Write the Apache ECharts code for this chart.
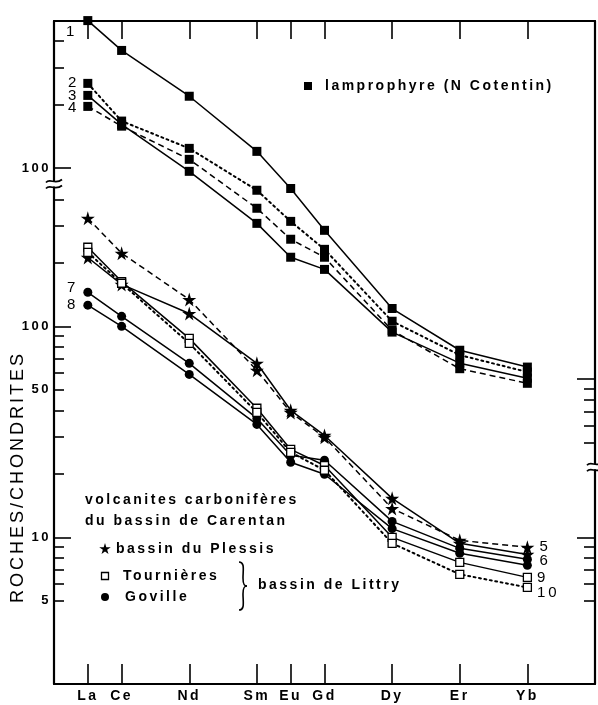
<!DOCTYPE html>
<html><head><meta charset="utf-8">
<script src="https://cdn.jsdelivr.net/npm/echarts@6/dist/echarts.min.js"></script>
<style>html,body{margin:0;padding:0;background:#fff}#c{width:598px;height:705px}</style>
</head><body><div id="c"></div>
<script>
// ---------- data ----------
const elements = ['La','Ce','Nd','Sm','Eu','Gd','Dy','Er','Yb'];
const atomicNumbers = [57,58,60,62,63,64,66,68,70];
// lamprophyre (N Cotentin) — upper scale
const lamp1 = [500,361,219,120,80,50.7,21.6,13.7,11.4];
const lamp2 = [252,167,124,78.5,55.9,41.2,18.8,13.0,10.8];
const lamp3 = [221,161,96.5,54.7,37.8,33.1,16.7,11.9,10.1];
const lamp4 = [196,158,110,64.5,46,37.8,17.0,11.2,9.55];
// bassin du Plessis (stars)
const plessis5 = [325,222,134,61.9,39.1,29.8,13.7,9.68,8.97];
const plessis6 = [212,158,115,66.8,40.0,30.4,15.3,9.37,8.3];
// Goville (dots)
const goville7 = [145,111.5,66.8,36.6,24.5,23.2,11.9,8.87,7.87];
const goville8 = [126,100,59.2,34.3,22.7,19.9,11.0,8.40,7.37];
// Tournières (open squares)
const tour9 = [237,163,87.7,40.9,26.1,21.9,10.0,7.61,6.46];
const tour10 = [224,160,83.1,39.1,25.3,20.8,9.37,6.68,5.79];

// ---------- tick labels ----------
const lowerLabels = [5,10,50,100];
const upperLabels = [100,500];
const lowerMajorTicks = [10,100];
const lowerMinorTicks = [5,6,7,8,9,20,30,40,50,60,70,80,90,200,300,400];
const upperMajorTicks = [100];
const upperMinorTicks = [200,300,400];
const rightUpperMajor = [10], rightUpperMinor = [5,6,7,8,9];
const rightLowerMajor = [10], rightLowerMinor = [5,6,7,8,9];

// ---------- scale setup ----------
const UPPER_SHIFT = 0.75;       // decades by which the lamprophyre scale is shifted
const Y_MAX = 3.447, Y_MIN = 0.305;
const toLower = v => Math.log10(v);
const toUpper = v => Math.log10(v) + UPPER_SHIFT;
const LEFT_BREAK = Math.log10(470);
const RIGHT_BREAK = Math.log10(21.5);

// letter spacing for the typewriter-like lettering
(function(){
  const P = CanvasRenderingContext2D.prototype, f = P.fillText;
  P.fillText = function(t,x,y,m){ try{ this.letterSpacing = /bold/.test(this.font) ? '2.5px' : '3px'; }catch(e){} return m===undefined ? f.call(this,t,x,y) : f.call(this,t,x,y,m); };
})();

const FONT = 'Liberation Sans, Arial, sans-serif';
const labelVals = lowerLabels.map(toLower).concat(upperLabels.map(toUpper));
const labelTxt = lowerLabels.concat(upperLabels).map(String);

const starPts = [[50,0],[61,35],[98,35],[68,57],[79,91],[50,70],[21,91],[32,57],[2,35],[39,35]];
const starPath = 'path://M' + starPts.map(p => p.join(',')).join(' L') + ' Z';

function mkSeries(name, vals, upper, symbol, size, lineType, white, lab) {
  const tf = upper ? toUpper : toLower;
  const data = vals.map((v,i) => {
    const d = { value: [atomicNumbers[i], tf(v)] };
    if (lab && lab.idx === i) {
      d.label = { show: true, formatter: lab.text, position: lab.pos, distance: lab.dist,
        offset: lab.off, color: '#000', fontSize: 15, fontFamily: FONT };
    }
    return d;
  });
  const dotted = Array.isArray(lineType) && lineType[0] === 2;
  return {
    name, type: 'line', data, symbol, symbolSize: size, clip: false,
    lineStyle: { color: '#000', width: dotted ? 2 : 1.5, type: lineType, cap: dotted ? 'round' : 'butt' },
    itemStyle: white ? { color: '#fff', borderColor: '#000', borderWidth: 1.3 } : { color: '#000', borderWidth: 0 },
    emphasis: { disabled: true }, z: 3
  };
}

const series = [
  mkSeries('1', lamp1, true, 'rect', 9, 'solid', false, {idx:0, text:'1', pos:'left', dist:6, off:[0,11]}),
  mkSeries('2', lamp2, true, 'rect', 9, [2,3.5], false, {idx:0, text:'2', pos:'left', dist:4, off:[0,-1]}),
  mkSeries('3', lamp3, true, 'rect', 9, 'solid', false, {idx:0, text:'3', pos:'left', dist:4, off:[0,0]}),
  mkSeries('4', lamp4, true, 'rect', 9, [6,4], false, {idx:0, text:'4', pos:'left', dist:4, off:[0,1]}),
  mkSeries('5', plessis5, false, starPath, 14, [6,4], false, {idx:8, text:'5', pos:'right', dist:5, off:[0,0]}),
  mkSeries('6', plessis6, false, starPath, 14, 'solid', false, {idx:8, text:'6', pos:'right', dist:5, off:[0,6]}),
  mkSeries('7', goville7, false, 'circle', 9, 'solid', false, {idx:0, text:'7', pos:'left', dist:5, off:[0,-4]}),
  mkSeries('8', goville8, false, 'circle', 9, 'solid', false, {idx:0, text:'8', pos:'left', dist:5, off:[0,0]}),
  mkSeries('9', tour9, false, 'rect', 8, 'solid', true, {idx:8, text:'9', pos:'right', dist:5, off:[0,0]}),
  mkSeries('10', tour10, false, 'rect', 8, [2,3.5], true, {idx:8, text:'10', pos:'right', dist:5, off:[0,5]})
];

function yAx(position, ticks, len, showLine, showLabels) {
  return {
    type: 'value', position, min: Y_MIN, max: Y_MAX, offset: 0,
    axisLine: { show: showLine, lineStyle: { color: '#000', width: 2.2 } },
    axisTick: { show: true, inside: true, length: len, customValues: ticks, lineStyle: { color: '#000', width: 1.6 } },
    axisLabel: showLabels ? {
      show: true, customValues: labelVals, margin: 3, color: '#000', fontSize: 13, fontWeight: 'bold', fontFamily: FONT,
      formatter: v => { for (let i=0;i<labelVals.length;i++) if (Math.abs(labelVals[i]-v)<1e-4) return labelTxt[i]; return ''; }
    } : { show: false },
    splitLine: { show: false }, axisPointer: { show: false }
  };
}

const option = {
  animation: false,
  backgroundColor: '#fff',
  grid: { left: 54, right: 3, top: 21, bottom: 21, containLabel: false },
  xAxis: [
    { type: 'value', position: 'bottom', min: 56, max: 72,
      axisLine: { onZero: false, lineStyle: { color: '#000', width: 2.2 } },
      axisTick: { inside: true, length: 20, customValues: atomicNumbers, lineStyle: { color: '#000', width: 1.6 } },
      axisLabel: { customValues: atomicNumbers, margin: 5, color: '#000', fontSize: 14, fontWeight: 'bold', fontFamily: FONT,
        formatter: v => { const i = atomicNumbers.indexOf(Math.round(v)); return i >= 0 ? elements[i] : ''; } },
      splitLine: { show: false } },
    { type: 'value', position: 'top', min: 56, max: 72,
      axisLine: { onZero: false, lineStyle: { color: '#000', width: 2.2 } },
      axisTick: { inside: true, length: 18, customValues: atomicNumbers, lineStyle: { color: '#000', width: 1.6 } },
      axisLabel: { show: false }, splitLine: { show: false } }
  ],
  yAxis: [
    yAx('left', lowerMajorTicks.map(toLower).concat(upperMajorTicks.map(toUpper)), 17, true, true),
    yAx('left', lowerMinorTicks.map(toLower).concat(upperMinorTicks.map(toUpper)), 10, false, false),
    yAx('right', rightLowerMajor.map(toLower).concat(rightUpperMajor.map(toUpper)), 18, true, false),
    yAx('right', rightLowerMinor.map(toLower).concat(rightUpperMinor.map(toUpper)), 11, false, false)
  ],
  series
};

const chart = echarts.init(document.getElementById('c'), null, { renderer: 'canvas' });
chart.setOption(option);

const bez = (x1,y1,c1x,c1y,c2x,c2y,x2,y2,w) => ({ type: 'bezierCurve', z: 101,
  shape: { x1, y1, cpx1: c1x, cpy1: c1y, cpx2: c2x, cpy2: c2y, x2, y2 },
  style: { fill: 'none', stroke: '#000', lineWidth: w || 1.7 } });

function breakMark(cx, cy) {
  return [
    { type: 'rect', shape: { x: cx-5, y: cy-3, width: 10, height: 5 }, style: { fill: '#fff' }, z: 100 },
    bez(cx-8, cy-2, cx-4, cy-7, cx+1, cy+1, cx+8, cy-5),
    bez(cx-8, cy+4, cx-4, cy-1, cx+1, cy+7, cx+8, cy+1)
  ];
}

const xl = chart.convertToPixel({ xAxisIndex: 0 }, 56);
const xr = chart.convertToPixel({ xAxisIndex: 0 }, 72);
const yl = chart.convertToPixel({ yAxisIndex: 0 }, LEFT_BREAK);
const yr = chart.convertToPixel({ yAxisIndex: 0 }, RIGHT_BREAK);

const txt = (t, x, y) => ({ type: 'text', z: 50,
  style: { text: t, x, y, fill: '#000', font: 'bold 14px ' + FONT, textAlign: 'left', textVerticalAlign: 'middle' } });

const graphics = [].concat(
  breakMark(xl, yl), breakMark(xr, yr),
  [
    { type: 'text', z: 50, x: 18, y: 477, rotation: Math.PI/2,
      style: { text: 'ROCHES/CHONDRITES', x: 0, y: 0, fill: '#000', font: '18px ' + FONT, textAlign: 'center', textVerticalAlign: 'middle' } },
    { type: 'rect', z: 50, shape: { x: 304, y: 82, width: 8, height: 8 }, style: { fill: '#000' } },
    txt('lamprophyre (N Cotentin)', 325, 86),
    txt('volcanites carbonifères', 85, 500),
    txt('du bassin de Carentan', 85, 521),
    { type: 'polygon', z: 50, shape: { points: starPts.map(p => [99 + p[0]*0.12, 543 + p[1]*0.12]) }, style: { fill: '#000' } },
    txt('bassin du Plessis', 116, 549),
    { type: 'rect', z: 50, shape: { x: 101.5, y: 572.5, width: 7, height: 7 }, style: { fill: '#fff', stroke: '#000', lineWidth: 1.3 } },
    txt('Tournières', 123, 576),
    { type: 'circle', z: 50, shape: { cx: 105, cy: 597, r: 4 }, style: { fill: '#000' } },
    txt('Goville', 125, 597),
    bez(239, 562, 245, 562, 243, 570, 243, 578, 1.6),
    bez(243, 578, 243, 584, 244, 586, 247, 586, 1.6),
    bez(247, 586, 244, 586, 243, 588, 243, 594, 1.6),
    bez(243, 594, 243, 602, 245, 610, 239, 610, 1.6),
    txt('bassin de Littry', 258, 585)
  ]
);
chart.setOption({ graphic: graphics });
</script>
</body></html>
